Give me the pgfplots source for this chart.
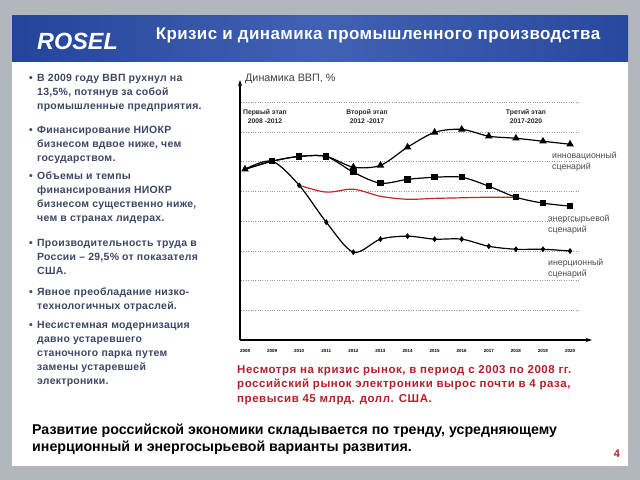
\documentclass[border=0pt]{standalone}
\usepackage{pgfplots}
\pgfplotsset{compat=1.18}
\usepackage{fontspec}
\setmainfont{Liberation Sans}
\newfontfamily\spA[LetterSpace=2.7]{Liberation Sans}
\newfontfamily\spB[LetterSpace=5]{Liberation Sans}
\newfontfamily\spC[LetterSpace=2.5]{Liberation Sans}
\usetikzlibrary{arrows.meta}
\definecolor{bg}{HTML}{B2B7BE}
\definecolor{hdrA}{HTML}{24449A}
\definecolor{hdrB}{HTML}{4162B3}
\definecolor{bul}{HTML}{3D4766}
\definecolor{redt}{HTML}{B3202C}
\definecolor{redl}{HTML}{C0272D}
\newcommand{\bl}[2]{\node[anchor=base west,inner sep=0,text=bul,font=\spA\fontsize{10.5}{12}\selectfont\bfseries] at (37,{480-(#1+4)}) {#2};}
\newcommand{\bd}[1]{\node[anchor=base west,inner sep=0,text=bul,font=\fontsize{10.5}{12}\selectfont\bfseries] at (29,{480-(#1+4)}) {•};}
\begin{document}
\begin{tikzpicture}
\begin{scope}[x=1bp,y=1bp]
\useasboundingbox (0,0) rectangle (640,480);
\fill[bg] (0,0) rectangle (640,480);
\fill[white] (12,14) rectangle (628,464);
\shade[left color=hdrA, right color=hdrA!85!hdrB, middle color=hdrB] (12,418) rectangle (628,464);
\node[anchor=base west,inner sep=0,white,font=\fontsize{23.5}{24}\selectfont\bfseries\itshape] at (37,430) {ROSEL};
\node[anchor=base,inner sep=0,white,font=\spC\fontsize{17}{18}\selectfont\bfseries] at (378,440) {Кризис и динамика промышленного производства};
% bullets
\bd{78}\bl{78}{В 2009 году ВВП рухнул на}
\bl{92}{13,5\%, потянув за собой}
\bl{106}{промышленные предприятия.}
\bd{130}\bl{130}{Финансирование НИОКР}
\bl{144}{бизнесом вдвое ниже, чем}
\bl{158}{государством.}
\bd{176}\bl{176}{Объемы и темпы}
\bl{190}{финансирования НИОКР}
\bl{204}{бизнесом существенно ниже,}
\bl{218}{чем в странах лидерах.}
\bd{243}\bl{243}{Производительность труда в}
\bl{257}{России – 29,5\% от показателя}
\bl{271}{США.}
\bd{292}\bl{292}{Явное преобладание низко-}
\bl{306}{технологичных отраслей.}
\bd{325}\bl{325}{Несистемная модернизация}
\bl{339}{давно устаревшего}
\bl{353}{станочного парка путем}
\bl{367}{замены устаревшей}
\bl{381}{электроники.}
\end{scope}
% chart
\begin{axis}[at={(240bp,140bp)}, anchor=south west, scale only axis,
  width=352bp, height=260bp,
  xmin=2007.815, xmax=2020.81, ymin=0, ymax=8.74,
  axis lines=left,
  axis line style={line width=1.3pt, -{Stealth[length=6pt,width=4pt]}},
  xtick={2008,...,2020}, ytick=\empty,
  major tick length=0pt,
  xticklabel style={font=\fontsize{4.5}{5}\selectfont\bfseries, /pgf/number format/1000 sep={}, yshift=-6pt},
  /pgf/number format/assume math mode=true,
  clip=false]
\pgfplotsinvokeforeach{1,...,8}{\draw[dotted, black!40] (axis cs:2007.85,#1) -- (axis cs:2020.3,#1);}
\addplot[black, line width=1.2pt, smooth, tension=0.5, mark=triangle*, mark size=3.2pt, mark indices={1,5,6,7,8,9,10,11,12,13}] coordinates {
(2008,5.74)(2009,6.01)(2010,6.17)(2011,6.17)(2012,5.81)(2013,5.87)(2014,6.48)(2015,6.98)(2016,7.08)(2017,6.85)(2018,6.78)(2019,6.68)(2020,6.58)};
\addplot[black, line width=1.2pt, smooth, tension=0.5, mark=square*, mark size=2.6pt, mark indices={2,3,4,5,6,7,8,9,10,11,12,13}] coordinates {
(2008,5.74)(2009,6.01)(2010,6.17)(2011,6.17)(2012,5.64)(2013,5.27)(2014,5.40)(2015,5.47)(2016,5.47)(2017,5.17)(2018,4.80)(2019,4.60)(2020,4.50)};
\addplot[black, line width=1.2pt, smooth, tension=0.5, mark=diamond*, mark size=2pt, mark indices={3,4,5,6,7,8,9,10,11,12,13}] coordinates {
(2008,5.74)(2009,6.01)(2010,5.20)(2011,3.96)(2012,2.95)(2013,3.39)(2014,3.49)(2015,3.39)(2016,3.39)(2017,3.15)(2018,3.05)(2019,3.05)(2020,2.99)};
\addplot[redl, line width=1.2pt, smooth, tension=0.5, no marks] coordinates {
(2010,5.20)(2011,4.97)(2012,5.07)(2013,4.83)(2014,4.73)(2015,4.76)(2016,4.78)(2017,4.80)(2018,4.80)};
\end{axis}
\begin{scope}[x=1bp,y=1bp]
\node[anchor=base west,inner sep=0,text=black!75,font=\fontsize{10.8}{12}\selectfont] at (245,{480-82}) {Динамика ВВП, \%};
\begin{scope}[every node/.style={inner sep=0,font=\fontsize{6.8}{7}\selectfont\bfseries,text=black!85}]
\node[anchor=base] at (265,{480-115}) {Первый этап};
\node[anchor=base] at (265,{480-124}) {2008 -2012};
\node[anchor=base] at (367,{480-115}) {Второй этап};
\node[anchor=base] at (367,{480-124}) {2012 -2017};
\node[anchor=base] at (526,{480-115}) {Третий этап};
\node[anchor=base] at (526,{480-124}) {2017-2020};
\end{scope}
\begin{scope}[every node/.style={anchor=base west,inner sep=0,font=\fontsize{8.8}{10}\selectfont,text=black!70}]
\node at (552,{480-159}) {инновационный};
\node at (552,{480-170}) {сценарий};
\node at (548,{480-222}) {энергсырьевой};
\node at (548,{480-233}) {сценарий};
\node at (548,{480-266}) {инерционный};
\node at (548,{480-277}) {сценарий};
\end{scope}
\begin{scope}[every node/.style={anchor=base west,inner sep=0,font=\spB\fontsize{11.5}{12}\selectfont\bfseries,text=redt}]
\node at (237,{480-374}) {Несмотря на кризис рынок, в период с 2003 по 2008 гг.};
\node at (237,{480-388}) {российский рынок электроники вырос почти в 4 раза,};
\node at (237,{480-403}) {превысив 45 млрд. долл. США.};
\end{scope}
\begin{scope}[every node/.style={anchor=base west,inner sep=0,font=\fontsize{14.25}{15}\selectfont\bfseries,text=black}]
\node at (32,{480-435}) {Развитие российской экономики складывается по тренду, усредняющему};
\node at (32,{480-452}) {инерционный и энергосырьевой варианты развития.};
\end{scope}
\node[anchor=base,inner sep=0,font=\fontsize{11}{12}\selectfont\bfseries,text=redt] at (617,{480-458}) {4};
\end{scope}
\end{tikzpicture}
\end{document}
